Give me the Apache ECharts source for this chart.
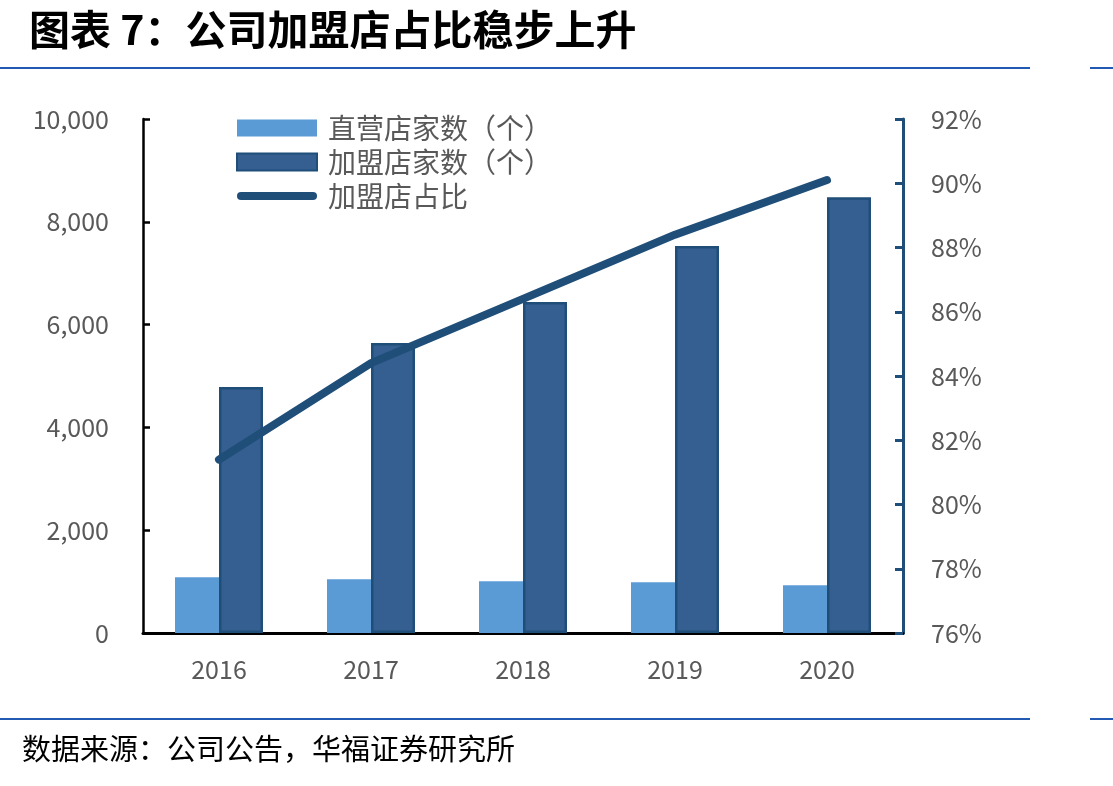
<!DOCTYPE html>
<html>
<head>
<meta charset="utf-8">
<script src="https://cdn.jsdelivr.net/npm/echarts@6/dist/echarts.min.js"></script>
<style>
  html, body { margin: 0; padding: 0; background: #fff; }
  #chart { width: 1113px; height: 786px; }
</style>
</head>
<body>
<div id="chart"></div>
<script>
const years = ['2016', '2017', '2018', '2019', '2020']
const directStores = [1085, 1045, 1005, 985, 930]
const franchiseStores = [4785, 5640, 6440, 7530, 8480]
const franchiseShare = [81.4, 84.4, 86.4, 88.4, 90.1]

const font = '"Noto Sans CJK SC", "Noto Sans", sans-serif'
const labelColor = '#595959'
// thick rounded bar used as the legend icon of the line series
const lineIcon = 'path://M4,0 L76,0 A4,4 0 0 1 76,8 L4,8 A4,4 0 0 1 4,0 Z'

const chart = echarts.init(document.getElementById('chart'))

chart.setOption({
  animation: false,
  backgroundColor: '#fff',
  title: {
    text: '图表 7：公司加盟店占比稳步上升',
    left: 24,
    top: 4,
    textStyle: { fontFamily: font, fontSize: 41, fontWeight: 'bold', color: '#000' },
  },
  graphic: [
    { type: 'rect', shape: { x: 0, y: 67, width: 1030, height: 2 }, style: { fill: '#2159B3' } },
    { type: 'rect', shape: { x: 1090, y: 67, width: 23, height: 2 }, style: { fill: '#2159B3' } },
    { type: 'rect', shape: { x: 0, y: 718, width: 1030, height: 2 }, style: { fill: '#2159B3' } },
    { type: 'rect', shape: { x: 1090, y: 718, width: 23, height: 2 }, style: { fill: '#2159B3' } },
    {
      type: 'text', left: 22, top: 734,
      style: { text: '数据来源：公司公告，华福证券研究所', font: '29px ' + font, fill: '#000' },
    },
  ],
  legend: {
    orient: 'vertical',
    left: 236,
    top: 114,
    padding: 0,
    itemWidth: 80,
    itemHeight: 17,
    itemGap: 6,
    textStyle: { fontFamily: font, fontSize: 28, color: labelColor, padding: [0, 0, 0, 6] },
    data: [
      { name: '直营店家数（个）', icon: 'rect' },
      { name: '加盟店家数（个）', icon: 'rect' },
      {
        name: '加盟店占比',
        icon: lineIcon,
        itemStyle: { color: '#1F4E79' },
        lineStyle: { width: 8, cap: 'round', color: '#1F4E79' },
      },
    ],
  },
  grid: { left: 143, right: 210, top: 119, bottom: 153 },
  xAxis: {
    type: 'category',
    data: years,
    axisLine: { lineStyle: { color: '#000', width: 3 } },
    axisTick: { show: false },
    axisLabel: { color: labelColor, fontSize: 25, fontFamily: font, margin: 24 },
  },
  yAxis: [
    {
      type: 'value',
      min: 0,
      max: 10000,
      interval: 2000,
      axisLine: { show: true, lineStyle: { color: '#000', width: 2.5 } },
      axisTick: { show: true, inside: true, length: 7, lineStyle: { color: '#000', width: 2.5 } },
      splitLine: { show: false },
      axisLabel: {
        color: labelColor, fontSize: 25, fontFamily: font, margin: 34,
        formatter: v => v.toLocaleString('en-US'),
      },
    },
    {
      type: 'value',
      min: 76,
      max: 92,
      interval: 2,
      position: 'right',
      axisLine: { show: true, lineStyle: { color: '#1F4E79', width: 3 } },
      axisTick: { show: true, inside: true, length: 8, lineStyle: { color: '#1F4E79', width: 3 } },
      splitLine: { show: false },
      axisLabel: {
        color: labelColor, fontSize: 25, fontFamily: font, margin: 28,
        formatter: v => v + '%',
      },
    },
  ],
  series: [
    {
      name: '直营店家数（个）',
      type: 'bar',
      data: directStores,
      barWidth: 44,
      barGap: '0%',
      itemStyle: { color: '#5B9BD5' },
    },
    {
      name: '加盟店家数（个）',
      type: 'bar',
      data: franchiseStores,
      barWidth: 44,
      itemStyle: { color: '#355F91', borderColor: '#1F4E79', borderWidth: 2.5 },
    },
    {
      name: '加盟店占比',
      type: 'line',
      yAxisIndex: 1,
      data: franchiseShare,
      symbol: 'none',
      lineStyle: { color: '#1F4E79', width: 8, cap: 'round' },
      itemStyle: { color: '#1F4E79' },
    },
  ],
})
</script>
</body>
</html>
